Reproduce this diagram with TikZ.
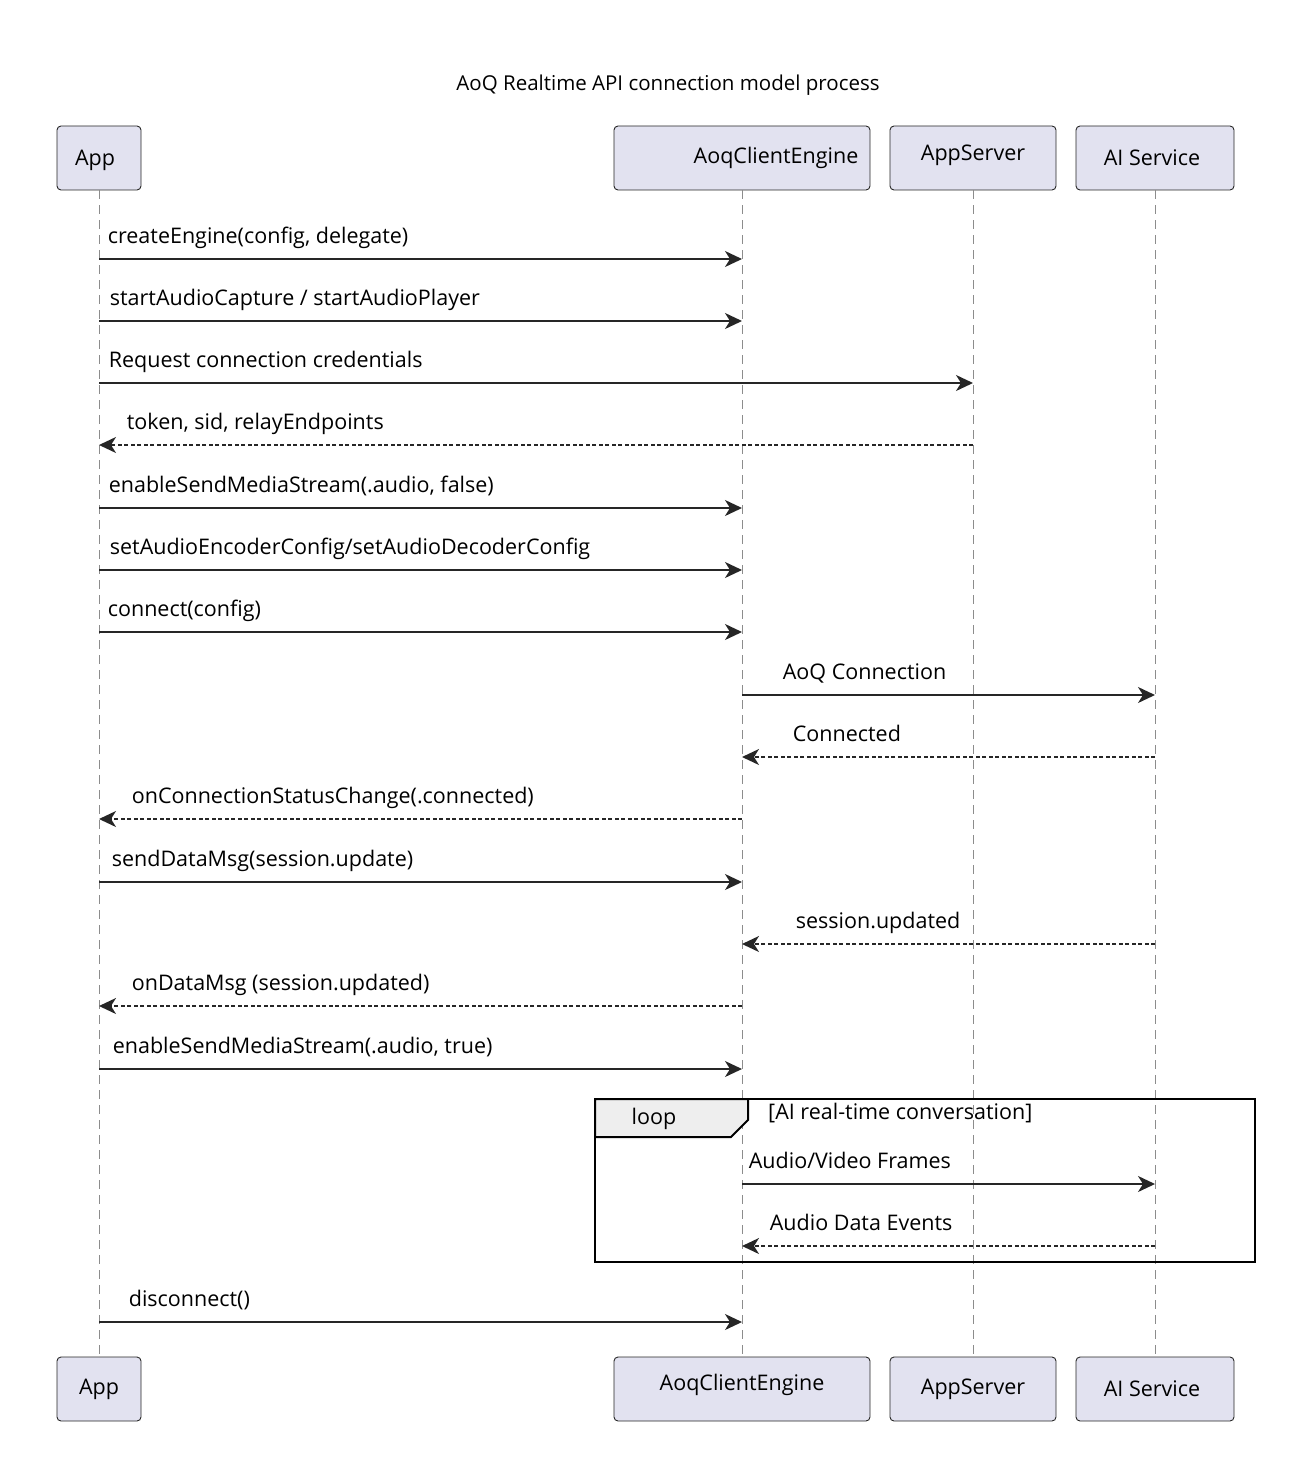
\documentclass[tikz,border=0pt]{standalone}
\usepackage{fontspec}
\setmainfont{Open Sans}
\usetikzlibrary{arrows.meta,positioning}
\definecolor{actorfill}{HTML}{E2E2F0}
\definecolor{tabfill}{HTML}{EEEEEE}

\begin{document}
\begin{tikzpicture}[x=1pt,y=-1pt,>={Stealth[length=17pt,width=16pt,inset=5pt]},font=\fontsize{21.5}{26}\selectfont]
        \tikzstyle{actor}=[rectangle,draw=black!85,fill=actorfill,rounded corners=4pt,line width=0.9pt,minimum height=64pt,inner sep=0pt]
        \tikzstyle{lifeline}=[draw=black!45,line width=1pt,dash pattern=on 9pt off 6pt]
        \tikzstyle{msg}=[->,draw=black!85,line width=1.7pt]
        \tikzstyle{reply}=[msg,dash pattern=on 4pt off 2.5pt]
        \tikzstyle{lbl}=[anchor=base west,inner sep=0pt,yshift=16pt]
        \tikzstyle{frame}=[draw=black,line width=2.6pt]

        \useasboundingbox (0,0) rectangle (1296,1458);
        \node [font=\fontsize{20.5}{25}\selectfont] (title) at (668,85) {AoQ Realtime API connection model process};

        \node [actor, minimum width=84pt, label={[xshift=-4pt,yshift=-2pt]center:App}] (app) at (99,158) {}; %top row
        \node [actor, minimum width=256pt, label={[xshift=34pt]center:AoqClientEngine}] (aoq) at (742,158) {};
        \node [actor, minimum width=166pt, label={[yshift=3pt]center:AppServer}] (srv) at (973,158) {};
        \node [actor, minimum width=158pt, label={[xshift=-3pt]center:AI Service}] (ai) at (1155,158) {};

        \node [actor, minimum width=84pt] (app2) at (99,1389) {App}; %bottom row
        \node [actor, minimum width=256pt, label={[yshift=4pt]center:AoqClientEngine}] (aoq2) at (742,1389) {};
        \node [actor, minimum width=166pt] (srv2) at (973,1389) {AppServer};
        \node [actor, minimum width=158pt, label={[xshift=-3pt]center:AI Service}] (ai2) at (1155,1389) {};

        \draw [lifeline] (app) -- (app2);
        \draw [lifeline] (aoq) -- (aoq2);
        \draw [lifeline] (srv) -- (srv2);
        \draw [lifeline] (ai) -- (ai2);

        \coordinate (m1) at (0,259);
        \coordinate (m2) at (0,321);
        \coordinate (m3) at (0,383);
        \coordinate (m4) at (0,445);
        \coordinate (m5) at (0,508);
        \coordinate (m6) at (0,570);
        \coordinate (m7) at (0,632);
        \coordinate (m8) at (0,695);
        \coordinate (m9) at (0,757);
        \coordinate (m10) at (0,819);
        \coordinate (m11) at (0,882);
        \coordinate (m12) at (0,944);
        \coordinate (m13) at (0,1006);
        \coordinate (m14) at (0,1069);
        \coordinate (m15) at (0,1184);
        \coordinate (m16) at (0,1246);
        \coordinate (m17) at (0,1322);

        \draw [msg] (app |- m1) -- (aoq |- m1) node [lbl, pos=0, xshift=8pt] {createEngine(config, delegate)};
        \draw [msg] (app |- m2) -- (aoq |- m2) node [lbl, pos=0, xshift=10pt] {startAudioCapture / startAudioPlayer};
        \draw [msg] (app |- m3) -- (srv |- m3) node [lbl, pos=0, xshift=9pt] {Request connection credentials};
        \draw [reply] (srv |- m4) -- (app |- m4) node [lbl, pos=1, xshift=27pt] {token, sid, relayEndpoints};
        \draw [msg] (app |- m5) -- (aoq |- m5) node [lbl, pos=0, xshift=9pt] {enableSendMediaStream(.audio, false)};
        \draw [msg] (app |- m6) -- (aoq |- m6) node [lbl, pos=0, xshift=10pt] {setAudioEncoderConfig/setAudioDecoderConfig};
        \draw [msg] (app |- m7) -- (aoq |- m7) node [lbl, pos=0, xshift=8pt] {connect(config)};
        \draw [msg] (aoq |- m8) -- (ai |- m8) node [lbl, pos=0, xshift=40pt] {AoQ Connection};
        \draw [reply] (ai |- m9) -- (aoq |- m9) node [lbl, pos=1, xshift=50pt] {Connected};
        \draw [reply] (aoq |- m10) -- (app |- m10) node [lbl, pos=1, xshift=32pt] {onConnectionStatusChange(.connected)};
        \draw [msg] (app |- m11) -- (aoq |- m11) node [lbl, pos=0, xshift=12pt] {sendDataMsg(session.update)};
        \draw [reply] (ai |- m12) -- (aoq |- m12) node [lbl, pos=1, xshift=53pt] {session.updated};
        \draw [reply] (aoq |- m13) -- (app |- m13) node [lbl, pos=1, xshift=32pt] {onDataMsg (session.updated)};
        \draw [msg] (app |- m14) -- (aoq |- m14) node [lbl, pos=0, xshift=13pt] {enableSendMediaStream(.audio, true)};

        %loop frame
        \draw [frame] (595,1099) rectangle (1255,1262);
        \draw [frame, line width=2pt, fill=tabfill] (595,1099) -- (748,1099) -- (748,1120) -- (731,1137) -- (595,1137) -- cycle;
        \node (loop) at (654,1119) {loop};
        \node [anchor=west, inner sep=0pt] (guard) at (768,1113) {[AI real-time conversation]};

        \draw [msg] (aoq |- m15) -- (ai |- m15) node [lbl, pos=0, xshift=6pt] {Audio/Video Frames};
        \draw [reply] (ai |- m16) -- (aoq |- m16) node [lbl, pos=1, xshift=27pt] {Audio Data Events};
        \draw [msg] (app |- m17) -- (aoq |- m17) node [lbl, pos=0, xshift=29pt] {disconnect()};
    \end{tikzpicture}
\end{document}
